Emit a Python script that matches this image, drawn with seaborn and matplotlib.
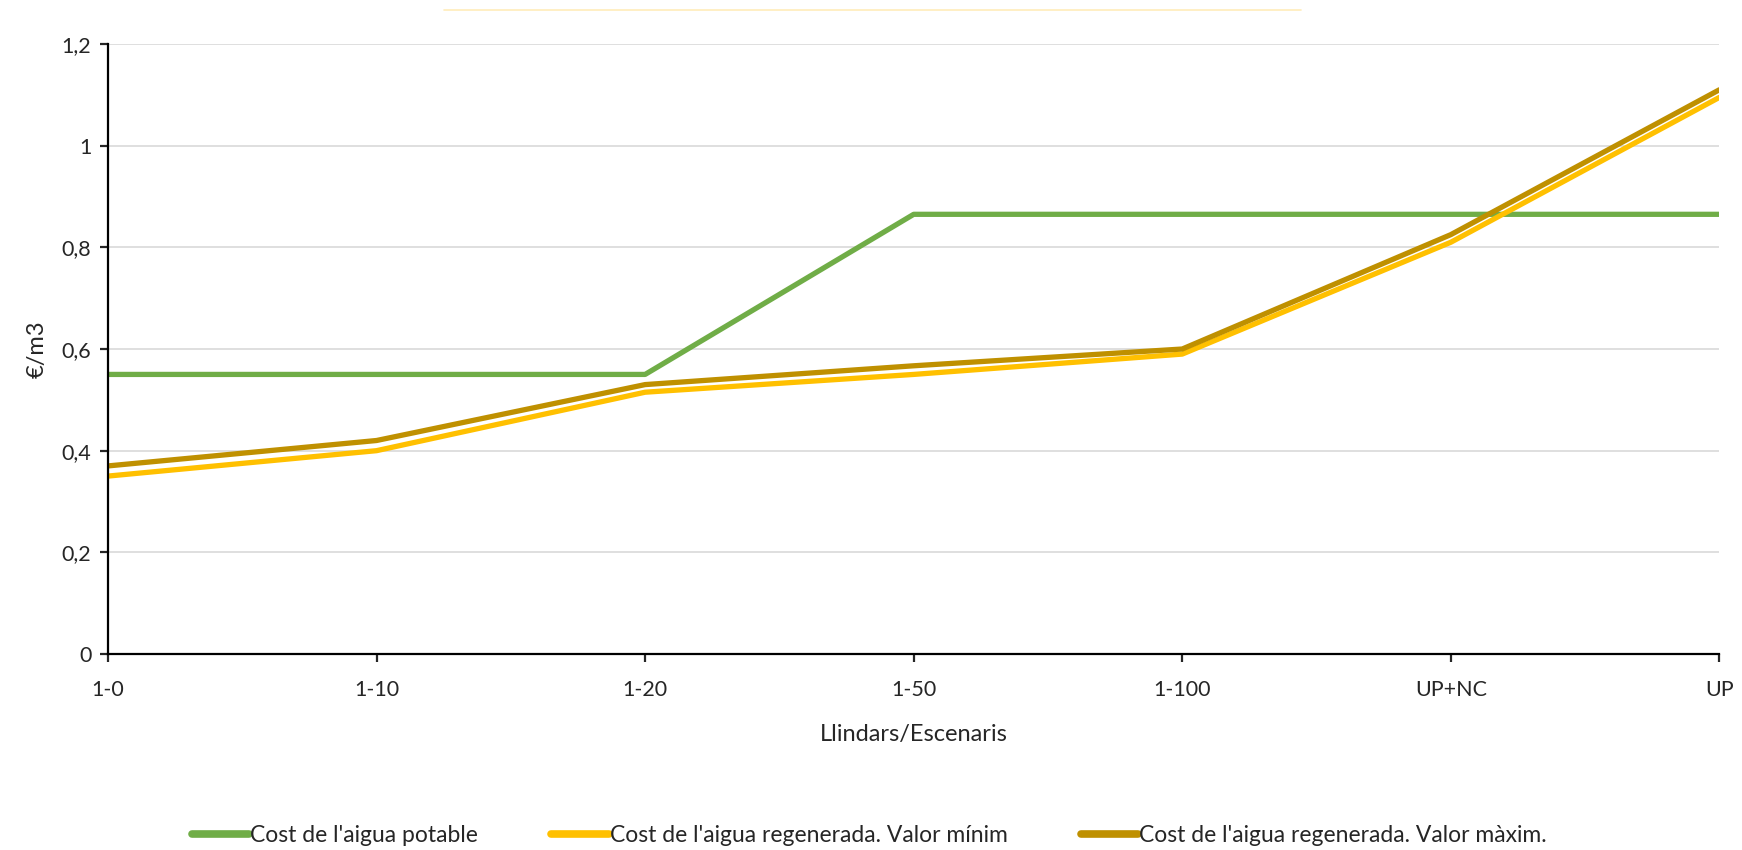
import pandas as pd
import matplotlib.pyplot as plt
import seaborn as sns
from matplotlib.lines import Line2D

# Dades
escenaris = ["1-0", "1-10", "1-20", "1-50", "1-100", "UP+NC", "UP"]
cost_potable = [0.55, 0.55, 0.55, 0.865, 0.865, 0.865, 0.865]
cost_regen_min = [0.35, 0.40, 0.515, 0.55, 0.59, 0.81, 1.095]
cost_regen_max = [0.37, 0.42, 0.53, 0.567, 0.60, 0.825, 1.11]

series = [
    "Cost de l'aigua potable",
    "Cost de l'aigua regenerada. Valor mínim",
    "Cost de l'aigua regenerada. Valor màxim.",
]
colors = ["#70AD47", "#FFC000", "#BF9000"]

df = pd.DataFrame({
    "Escenari": escenaris * 3,
    "Cost": cost_potable + cost_regen_min + cost_regen_max,
    "Serie": [series[0]] * 7 + [series[1]] * 7 + [series[2]] * 7,
})

sns.set_style("white")
plt.rcParams["font.family"] = ["Lato", "DejaVu Sans"]

fig = plt.figure(figsize=(17.42, 8.5), dpi=100)
ax = fig.add_axes([0.062, 0.2306, 0.925, 0.7176])

sns.lineplot(data=df, x="Escenari", y="Cost", hue="Serie", palette=colors,
             sort=False, linewidth=3.8, ax=ax, legend=False)

ax.set_xlim(0, len(escenaris) - 1)
ax.set_ylim(0, 1.2)
yt = [0, 0.2, 0.4, 0.6, 0.8, 1.0, 1.2]
ax.set_yticks(yt)
ax.set_yticklabels([f"{v:g}".replace(".", ",") for v in yt])
ax.grid(axis="y", color="#D9D9D9", linewidth=1.2)
ax.set_axisbelow(True)

for s in ["top", "right"]:
    ax.spines[s].set_visible(False)
for s in ["left", "bottom"]:
    ax.spines[s].set_color("black")
    ax.spines[s].set_linewidth(1.6)
ax.tick_params(axis="both", direction="out", length=6, width=1.6,
               labelsize=15.5, colors="#262626", pad=6, left=True, bottom=True)
ax.tick_params(axis="x", pad=13)

ax.set_xlabel("Llindars/Escenaris", fontsize=17, labelpad=17, color="#262626")
ax.set_ylabel("€/m3", fontsize=17, labelpad=10, color="#262626")

handles = [Line2D([], [], color=c, linewidth=5.5, solid_capstyle="round") for c in colors]
fig.legend(handles, series, loc="center", bbox_to_anchor=(0.499, 0.017),
           ncol=3, frameon=False, fontsize=16.5, handlelength=2.5,
           handletextpad=0.05, columnspacing=3.2, labelcolor="#262626")

# línia tènue a la part superior
fig.add_artist(Line2D([0.255, 0.747], [0.988, 0.988], transform=fig.transFigure,
                      color="#FFE8A8", linewidth=1.2, alpha=0.8))

fig.savefig("out.png", dpi=100, facecolor="white")
